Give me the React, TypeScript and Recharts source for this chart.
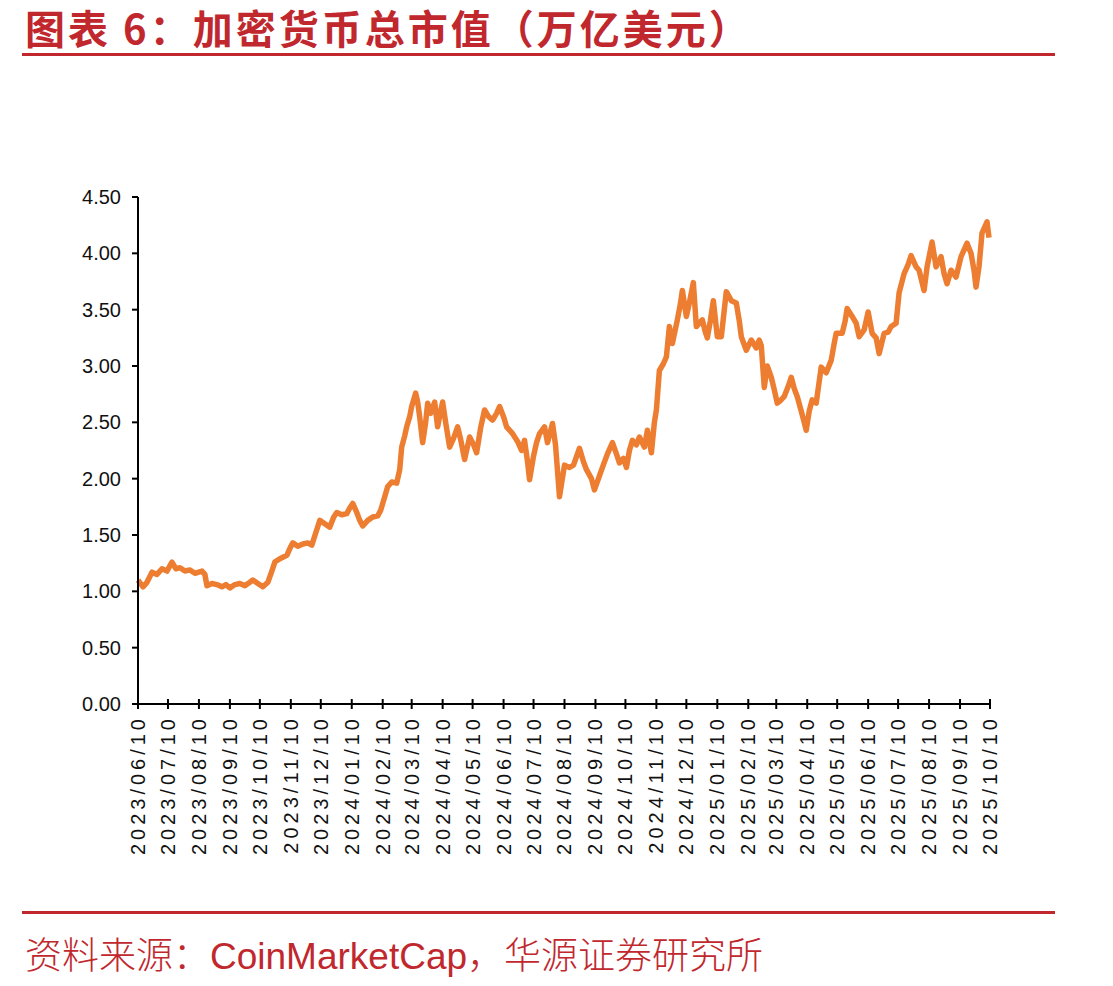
import React from "react";
import { LineChart, Line, XAxis, YAxis } from "recharts";

// days since 2023/06/10
const dayOffsets = [
  0, 5, 9, 14, 19, 24, 29, 34, 38, 42, 47, 52, 57, 64, 67, 69, 74, 79, 84, 88,
  92, 97, 102, 107, 112, 115, 120, 125, 130, 134, 137, 142, 149, 152, 155, 160,
  165, 170, 174, 178, 182, 187, 192, 196, 199, 204, 209, 212, 215, 219, 222, 225,
  230, 235, 240, 243, 247, 250, 254, 259, 262, 264, 267, 269, 272, 274, 278, 280,
  282, 285, 288, 290, 293, 297, 300, 303, 305, 308, 312, 316, 320, 323, 327, 332,
  336, 339, 343, 347, 351, 355, 359, 362, 366, 369, 375, 380, 384, 387, 390, 392,
  396, 399, 402, 407, 410, 415, 418, 422, 427, 432, 436, 442, 446, 449, 454, 457,
  461, 465, 470, 475, 479, 482, 486, 489, 492, 495, 499, 502, 507, 510, 514, 517,
  519, 522, 526, 529, 532, 535, 540, 543, 545, 549, 552, 556, 559, 562, 565, 568,
  570, 573, 576, 580, 584, 587, 589, 594, 599, 602, 604, 609, 614, 619, 622, 624,
  627, 630, 634, 637, 640, 644, 647, 651, 654, 657, 660, 664, 667, 669, 672, 675,
  679, 684, 689, 694, 697, 699, 705, 708, 710, 715, 719, 722, 727, 731, 735, 739,
  742, 747, 751, 754, 759, 762, 767, 771, 774, 779, 782, 787, 790, 795, 799, 804,
  807, 810, 814, 819, 824, 830, 834, 837, 839, 842, 845, 850, 852,
];

// total crypto market cap, trillion USD
const marketCap = [
  1.1, 1.04, 1.08, 1.17, 1.15, 1.2, 1.18, 1.26, 1.2, 1.21, 1.18, 1.19, 1.16, 1.18,
  1.15, 1.05, 1.07, 1.06, 1.04, 1.06, 1.03, 1.06, 1.07, 1.05, 1.08, 1.1, 1.07,
  1.04, 1.08, 1.18, 1.26, 1.29, 1.32, 1.38, 1.43, 1.4, 1.42, 1.43, 1.41, 1.52,
  1.63, 1.6, 1.57, 1.66, 1.7, 1.68, 1.69, 1.74, 1.78, 1.7, 1.63, 1.58, 1.63, 1.66,
  1.67, 1.72, 1.84, 1.93, 1.97, 1.96, 2.08, 2.28, 2.38, 2.46, 2.55, 2.64, 2.76,
  2.68, 2.55, 2.32, 2.5, 2.67, 2.58, 2.68, 2.46, 2.6, 2.68, 2.5, 2.28, 2.36, 2.46,
  2.35, 2.17, 2.37, 2.3, 2.23, 2.45, 2.61, 2.55, 2.52, 2.58, 2.64, 2.55, 2.46, 2.4,
  2.33, 2.25, 2.34, 2.15, 1.99, 2.2, 2.32, 2.4, 2.46, 2.32, 2.49, 2.3, 1.84, 2.12,
  2.1, 2.12, 2.27, 2.15, 2.08, 2.0, 1.9, 2.0, 2.1, 2.22, 2.32, 2.22, 2.14, 2.18,
  2.1, 2.25, 2.34, 2.3, 2.37, 2.28, 2.43, 2.23, 2.5, 2.61, 2.96, 3.02, 3.08, 3.35,
  3.2, 3.41, 3.55, 3.67, 3.44, 3.56, 3.74, 3.35, 3.38, 3.41, 3.3, 3.25, 3.4, 3.58,
  3.26, 3.26, 3.5, 3.66, 3.58, 3.56, 3.4, 3.26, 3.14, 3.23, 3.16, 3.23, 3.18, 2.81,
  3.0, 2.9, 2.79, 2.67, 2.7, 2.73, 2.82, 2.9, 2.8, 2.73, 2.6, 2.5, 2.43, 2.6, 2.7,
  2.67, 2.99, 2.94, 3.05, 3.2, 3.29, 3.29, 3.4, 3.51, 3.44, 3.38, 3.26, 3.32, 3.48,
  3.29, 3.25, 3.11, 3.29, 3.3, 3.35, 3.38, 3.65, 3.82, 3.9, 3.98, 3.88, 3.85, 3.67,
  3.88, 4.1, 3.88, 3.97, 3.82, 3.73, 3.85, 3.79, 3.97, 4.09, 4.0, 3.85, 3.7, 3.88,
  4.18, 4.28, 4.14,
];

const monthTicks = [
  "2023/06/10", "2023/07/10", "2023/08/10", "2023/09/10", "2023/10/10",
  "2023/11/10", "2023/12/10", "2024/01/10", "2024/02/10", "2024/03/10",
  "2024/04/10", "2024/05/10", "2024/06/10", "2024/07/10", "2024/08/10",
  "2024/09/10", "2024/10/10", "2024/11/10", "2024/12/10", "2025/01/10",
  "2025/02/10", "2025/03/10", "2025/04/10", "2025/05/10", "2025/06/10",
  "2025/07/10", "2025/08/10", "2025/09/10", "2025/10/10",
];

const yTicks = [0, 0.5, 1, 1.5, 2, 2.5, 3, 3.5, 4, 4.5];

const RED = "#C0282E";
const ORANGE = "#ED7D31";
const LATIN = "Arial, 'Liberation Sans', sans-serif";
const CJK = "'Noto Sans CJK SC', 'Noto Sans', sans-serif";

const toDay = (s: string) => {
  const [y, m, d] = s.split("/").map(Number);
  return Math.round((Date.UTC(y, m - 1, d) - Date.UTC(2023, 5, 10)) / 86400000);
};

const tickDays = monthTicks.map(toDay);
const labelByDay: Record<number, string> = {};
monthTicks.forEach((t, i) => (labelByDay[tickDays[i]] = t));

const data = dayOffsets.map((d, i) => ({ day: d, cap: marketCap[i] }));

const DateTick = ({ x, y, payload }: any) => {
  const ty = y + 11;
  return (
    <g>
      <line x1={x} x2={x} y1={y - 5} y2={y + 5} stroke="#000" strokeWidth={2} />
      <text
        x={x}
        y={ty}
        transform={`rotate(-90, ${x}, ${ty})`}
        textAnchor="end"
        dominantBaseline="central"
        fontFamily={LATIN}
        fontSize={20}
        letterSpacing={4}
        fill="#111"
      >
        {labelByDay[payload.value]}
      </text>
    </g>
  );
};

export default function App() {
  return (
    <div style={{ position: "relative", width: 1113, height: 986, background: "#fff" }}>
      <style>{"body{margin:0}"}</style>
      <div
        style={{
          position: "absolute",
          left: 25,
          top: 6,
          fontFamily: CJK,
          fontWeight: 700,
          fontSize: 40,
          lineHeight: "42px",
          letterSpacing: 3,
          color: RED,
          whiteSpace: "nowrap",
        }}
      >
        图表 6：加密货币总市值（万亿美元）
      </div>
      <div style={{ position: "absolute", left: 22, top: 53, width: 1033, height: 3, background: RED }} />

      <div style={{ position: "absolute", left: 0, top: 0 }}>
        <LineChart
          width={1113}
          height={880}
          data={data}
          margin={{ top: 197, right: 123, bottom: 0, left: 78 }}
        >
          <XAxis
            dataKey="day"
            type="number"
            domain={[0, 853]}
            ticks={tickDays}
            interval={0}
            height={176}
            tickSize={0}
            tickMargin={0}
            tickLine={false}
            axisLine={{ stroke: "#000", strokeWidth: 2 }}
            tick={<DateTick />}
          />
          <YAxis
            type="number"
            domain={[0, 4.5]}
            ticks={yTicks}
            interval={0}
            width={60}
            tickSize={6}
            tickMargin={11}
            tickFormatter={(v: number) => v.toFixed(2)}
            axisLine={{ stroke: "#000", strokeWidth: 2 }}
            tickLine={{ stroke: "#000", strokeWidth: 2 }}
            tick={{ fill: "#111", fontSize: 20, fontFamily: LATIN }}
          />
          <Line
            type="linear"
            dataKey="cap"
            stroke={ORANGE}
            strokeWidth={5.5}
            strokeLinejoin="round"
            dot={false}
            isAnimationActive={false}
          />
        </LineChart>
      </div>

      <div style={{ position: "absolute", left: 22, top: 911, width: 1033, height: 3, background: RED }} />
      <div
        style={{
          position: "absolute",
          left: 25,
          top: 930,
          fontSize: 37,
          lineHeight: "46px",
          color: RED,
          whiteSpace: "nowrap",
        }}
      >
        <span style={{ fontFamily: CJK, fontWeight: 300 }}>资料来源：</span>
        <span style={{ fontFamily: LATIN }}>CoinMarketCap</span>
        <span style={{ fontFamily: CJK, fontWeight: 300 }}>，华源证券研究所</span>
      </div>
    </div>
  );
}
